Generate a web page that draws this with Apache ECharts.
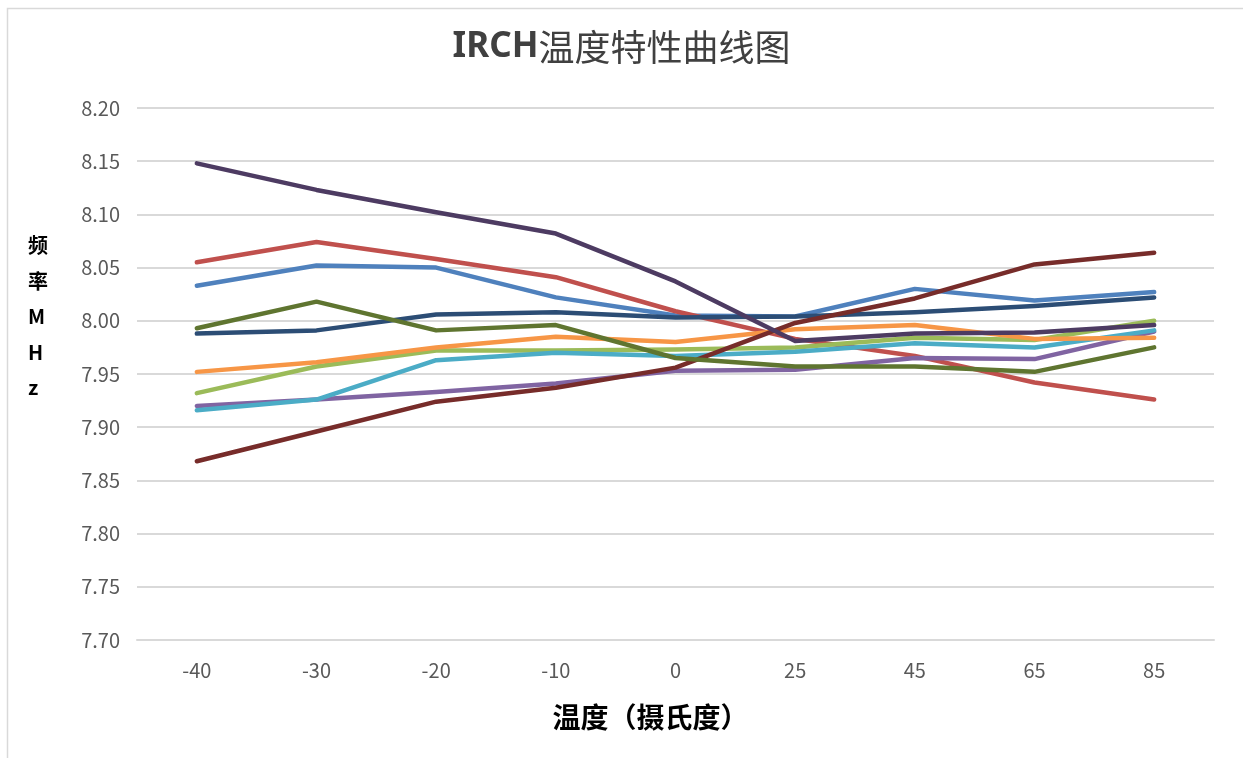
<!DOCTYPE html>
<html>
<head>
<meta charset="utf-8">
<script src="https://cdn.jsdelivr.net/npm/echarts@6/dist/echarts.min.js"></script>
<style>
  html, body { margin: 0; padding: 0; background: #ffffff; }
  #chart { width: 1243px; height: 758px; }
</style>
</head>
<body>
<div id="chart"></div>
<script>
// Temperature points (°C) along the x axis
const temperatures = ['-40', '-30', '-20', '-10', '0', '25', '45', '65', '85'];

// Frequency (MHz) of each sample at each temperature
const sample1 = [8.033, 8.052, 8.050, 8.022, 8.005, 8.004, 8.030, 8.019, 8.027];
const sample2 = [8.055, 8.074, 8.058, 8.041, 8.009, 7.983, 7.967, 7.942, 7.926];
const sample3 = [7.932, 7.957, 7.972, 7.972, 7.973, 7.975, 7.984, 7.982, 8.000];
const sample4 = [7.920, 7.926, 7.933, 7.941, 7.953, 7.954, 7.965, 7.964, 7.990];
const sample5 = [7.916, 7.926, 7.963, 7.970, 7.967, 7.971, 7.979, 7.975, 7.991];
const sample6 = [7.952, 7.961, 7.975, 7.985, 7.980, 7.992, 7.996, 7.983, 7.984];
const sample7 = [7.988, 7.991, 8.006, 8.008, 8.003, 8.004, 8.008, 8.014, 8.022];
const sample8 = [7.868, 7.896, 7.924, 7.937, 7.956, 7.998, 8.021, 8.053, 8.064];
const sample9 = [7.993, 8.018, 7.991, 7.996, 7.965, 7.957, 7.957, 7.952, 7.975];
const sample10 = [8.148, 8.123, 8.102, 8.082, 8.037, 7.981, 7.988, 7.989, 7.996];

const seriesData = [sample1, sample2, sample3, sample4, sample5, sample6, sample7, sample8, sample9, sample10];
const seriesNames = ['1#', '2#', '3#', '4#', '5#', '6#', '7#', '8#', '9#', '10#'];
const palette = ['#4F81BD', '#C0504D', '#9BBB59', '#8064A2', '#4BACC6',
                 '#F79646', '#2C4D75', '#772C2A', '#5F7530', '#4D3B62'];

const chart = echarts.init(document.getElementById('chart'), null, { renderer: 'canvas' });

chart.setOption({
  backgroundColor: '#ffffff',
  animation: false,
  color: palette,
  title: {
    text: '{a|IRCH}{b|温度特性曲线图}',
    left: 'center',
    top: 24,
    textStyle: {
      rich: {
        a: { fontFamily: 'Noto Sans', fontSize: 35, fontWeight: 'bold', color: '#404040' },
        b: { fontFamily: 'Noto Sans CJK SC', fontSize: 36, fontWeight: 'normal', color: '#404040' }
      }
    }
  },
  grid: { left: 137, right: 29, top: 108, bottom: 118 },
  xAxis: {
    type: 'category',
    data: temperatures,
    boundaryGap: true,
    axisLine: { show: true, lineStyle: { color: '#D9D9D9', width: 2 } },
    axisTick: { show: false },
    axisLabel: {
      margin: 20,
      fontFamily: 'Noto Sans CJK SC',
      fontSize: 20,
      color: '#595959'
    },
    name: '温度（摄氏度）',
    nameLocation: 'middle',
    nameGap: 63,
    nameTextStyle: {
      fontFamily: 'Noto Sans CJK SC',
      fontSize: 28,
      fontWeight: 'bold',
      color: '#000000',
      padding: [0, 50, 0, 0]
    }
  },
  yAxis: {
    type: 'value',
    min: 7.7,
    max: 8.2,
    interval: 0.05,
    axisLine: { show: false },
    axisTick: { show: false },
    splitLine: { lineStyle: { color: '#D9D9D9', width: 2 } },
    axisLabel: {
      margin: 17,
      fontFamily: 'Noto Sans CJK SC',
      fontSize: 20,
      color: '#595959',
      formatter: v => v.toFixed(2)
    }
  },
  graphic: [
    {
      type: 'rect',
      shape: { x: 7.5, y: 8.5, width: 1240, height: 760 },
      style: { fill: 'none', stroke: '#D9D9D9', lineWidth: 1.5 },
      silent: true
    },
    {
      type: 'text',
      left: 28,
      top: 228,
      style: {
        text: '频\n率\nM\nH\nz',
        fontFamily: 'Noto Sans CJK SC',
        fontSize: 20,
        fontWeight: 'bold',
        lineHeight: 35.5,
        fill: '#000000',
        align: 'center',
        width: 24
      }
    }
  ],
  series: seriesData.map((d, i) => ({
    name: seriesNames[i],
    type: 'line',
    data: d,
    showSymbol: false,
    symbol: 'none',
    lineStyle: { width: 4.5, color: palette[i], cap: 'round', join: 'round' },
    z: 2 + i
  }))
});
</script>
</body>
</html>
